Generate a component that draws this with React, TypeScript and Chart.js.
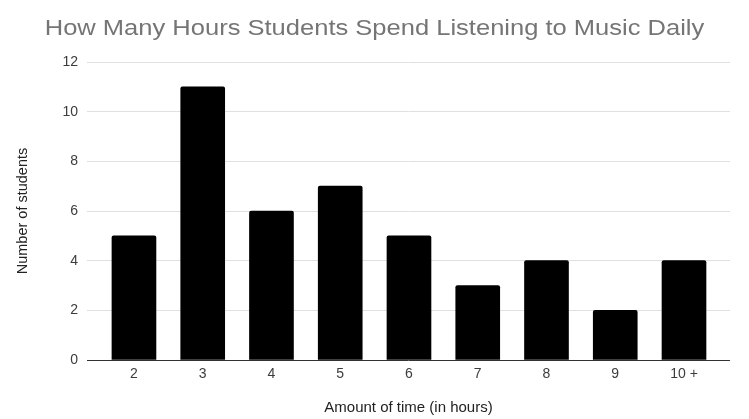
import React, { useEffect, useRef } from "react";
import { Chart, registerables } from "chart.js";

Chart.register(...registerables);

const categories = ["2", "3", "4", "5", "6", "7", "8", "9", "10 +"];
const students = [5, 11, 6, 7, 5, 3, 4, 2, 4];
const yTicks = [0, 2, 4, 6, 8, 10, 12];
const chartTitle = "How Many Hours Students Spend Listening to Music Daily";

const FONT = "'Liberation Sans', Arial, sans-serif";

// Draws the heading above the plot, slightly widened horizontally.
const headingPlugin = {
  id: "heading",
  afterDraw(chart: any) {
    const { ctx, width } = chart;
    ctx.save();
    ctx.fillStyle = "#757575";
    ctx.font = `22px ${FONT}`;
    ctx.textAlign = "center";
    ctx.textBaseline = "alphabetic";
    ctx.translate(width / 2, 35);
    ctx.scale(1.16, 1);
    ctx.fillText(chartTitle, 0, 0);
    ctx.restore();
  },
};

export default function App() {
  const canvasRef = useRef<HTMLCanvasElement | null>(null);

  useEffect(() => {
    document.body.style.margin = "0";
    const canvas = canvasRef.current;
    if (!canvas) return;
    const chart = new Chart(canvas, {
      type: "bar",
      data: {
        datasets: [
          {
            label: "Number of students",
            data: students.map((v, i) => ({ x: i, y: v })),
            backgroundColor: "#000000",
            borderColor: "#000000",
            borderWidth: 0,
            borderRadius: 2,
            borderSkipped: "bottom",
            barThickness: 44,
          },
        ],
      },
      plugins: [headingPlugin],
      options: {
        responsive: false,
        animation: false,
        layout: { padding: { left: 0, right: 19, top: 62, bottom: 0 } },
        plugins: {
          legend: { display: false },
          tooltip: { enabled: false },
          title: { display: false },
        },
        scales: {
          x: {
            type: "linear",
            offset: false,
            min: -0.683,
            max: 8.669,
            afterBuildTicks: (scale: any) => {
              scale.ticks = categories.map((_, i) => ({ value: i }));
            },
            afterFit: (scale: any) => {
              scale.height = 59;
            },
            grid: { display: false, drawTicks: false, offset: false },
            border: { display: false },
            ticks: {
              autoSkip: false,
              maxRotation: 0,
              padding: 6,
              color: "#3c3c3c",
              font: { family: FONT, size: 14 },
              callback: (v: any) => categories[Math.round(Number(v))] ?? "",
            },
            title: {
              display: true,
              text: "Amount of time (in hours)",
              color: "#222222",
              font: { family: FONT, size: 15 },
              padding: { top: 0, bottom: 2 },
            },
          },
          y: {
            min: 0,
            max: 12,
            afterBuildTicks: (scale: any) => {
              scale.ticks = yTicks.map((v) => ({ value: v }));
            },
            afterFit: (scale: any) => {
              scale.width = 87;
            },
            grid: {
              drawTicks: false,
              color: (ctx: any) => (ctx.tick && ctx.tick.value === 0 ? "#333333" : "#e0e0e0"),
              lineWidth: 1,
            },
            border: { display: false },
            ticks: {
              padding: 9,
              color: "#3c3c3c",
              font: { family: FONT, size: 14 },
            },
            title: {
              display: true,
              text: "Number of students",
              color: "#222222",
              font: { family: FONT, size: 14.5 },
              padding: { top: 14, bottom: 0 },
            },
          },
        },
      },
    });
    return () => chart.destroy();
  }, []);

  return (
    <div style={{ position: "absolute", left: 0, top: 0, width: 749, height: 419, background: "#ffffff" }}>
      <canvas ref={canvasRef} width={749} height={419} />
    </div>
  );
}
